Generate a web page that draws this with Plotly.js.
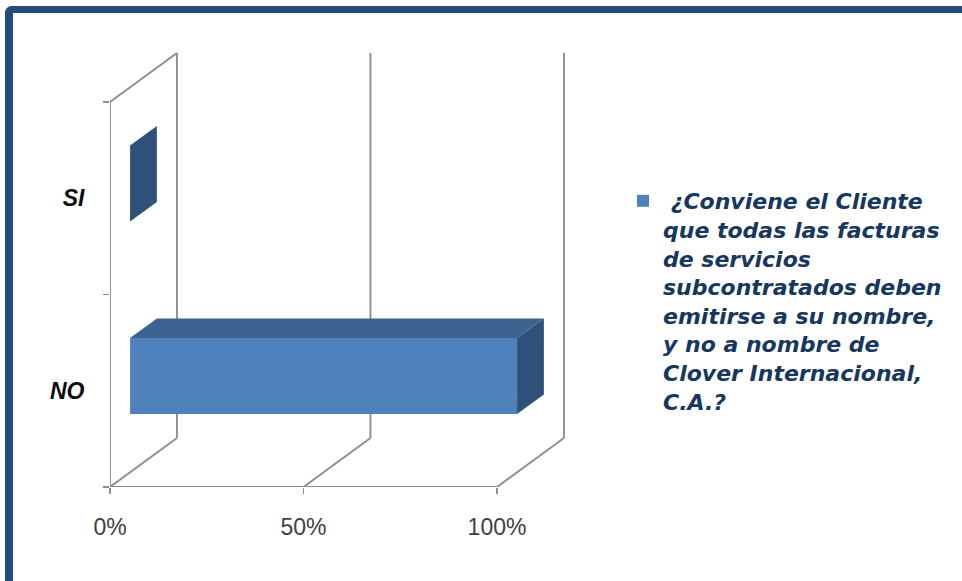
<!DOCTYPE html>
<html>
<head>
<meta charset="utf-8">
<script src="https://cdn.plot.ly/plotly-3.0.1.min.js"></script>
<style>
  html, body { margin: 0; padding: 0; background: #ffffff; overflow: hidden; }
  #frame { position: absolute; left: 5px; top: 6px; width: 1000px; height: 640px;
           border-top: 7px solid #234B7E; border-left: 8px solid #234B7E;
           border-top-left-radius: 7px; box-sizing: border-box; }
  #chart { position: absolute; left: 0; top: 0; width: 962px; height: 581px; }
</style>
</head>
<body>
<div id="frame"></div>
<div id="chart"></div>
<script>
// ---- data ----
const categories = ['NO', 'SI'];          // bottom to top
const values = [1.0, 0.0];                // share of answers (0..1)
const xTickVals = [0, 0.5, 1];
const xTickText = ['0%', '50%', '100%'];
const seriesLines = [
  ' ¿Conviene el Cliente',
  'que todas las facturas',
  'de servicios',
  'subcontratados deben',
  'emitirse a su nombre,',
  'y no a nombre de',
  'Clover Internacional,',
  'C.A.?'
];

// ---- 3D projection helpers (in data units) ----
const DX = 0.173, DY = 0.2545;   // full depth offset
const D1 = 0.3, D2 = 0.7;        // bar front/back depth fractions
const BARW = 0.395;
const wallColor = '#8e8e8e';
const frontColor = '#4F81BD', topColor = '#3D6391', sideColor = '#2F5079';

const yPos = categories.map((c, i) => i);
const traces = [];

// walls / gridlines (on the base subplot, drawn underneath)
function line(xs, ys) {
  traces.push({type: 'scatter', mode: 'lines', x: xs, y: ys, cliponaxis: false,
    xaxis: 'x', yaxis: 'y',
    line: {color: wallColor, width: 1.9}, hoverinfo: 'skip', showlegend: false});
}
const yLo = -0.5, yHi = categories.length - 0.5;
line([0, 0], [yLo, yHi]);
line([0, DX], [yHi, yHi + DY]);
line([0, xTickVals[xTickVals.length - 1]], [yLo, yLo]);
xTickVals.forEach(v => {
  line([v + DX, v + DX], [yLo + DY, yHi + DY]);
  line([v, v + DX], [yLo, yLo + DY]);
});

// bar 3D faces (overlay subplot, drawn on top of walls)
const dd = D2 - D1;
categories.forEach((c, i) => {
  const v = values[i];
  const x0 = D1 * DX;
  const yc = yPos[i] + D1 * DY;
  const yt = yc + BARW / 2, yb = yc - BARW / 2;
  traces.push({type: 'scatter', mode: 'lines', fill: 'toself', fillcolor: topColor,
    xaxis: 'x2', yaxis: 'y2',
    x: [x0, x0 + v, x0 + v + dd * DX, x0 + dd * DX, x0],
    y: [yt, yt, yt + dd * DY, yt + dd * DY, yt],
    line: {width: 0}, hoverinfo: 'skip', showlegend: false});
  traces.push({type: 'scatter', mode: 'lines', fill: 'toself', fillcolor: sideColor,
    xaxis: 'x2', yaxis: 'y2',
    x: [x0 + v, x0 + v, x0 + v + dd * DX, x0 + v + dd * DX, x0 + v],
    y: [yb, yt, yt + dd * DY, yb + dd * DY, yb],
    line: {width: 0}, hoverinfo: 'skip', showlegend: false});
});

// front faces (the series itself)
traces.push({
  type: 'bar', orientation: 'h',
  xaxis: 'x2', yaxis: 'y2',
  x: values,
  y: yPos.map(p => p + D1 * DY),
  base: D1 * DX,
  width: BARW,
  marker: {color: frontColor, line: {width: 0}},
  name: seriesLines.join('<br>'),
  showlegend: true
});

const xRange = [0, 490 / 387];
const yRange = [-0.5, -0.5 + 437 / 192.5];

const layout = {
  width: 962, height: 581,
  margin: {l: 110, r: 362, t: 50, b: 94},
  paper_bgcolor: 'rgba(0,0,0,0)', plot_bgcolor: 'rgba(0,0,0,0)',
  showlegend: true,
  xaxis: {
    range: xRange, showgrid: false, zeroline: false, showline: false,
    tickvals: xTickVals, ticktext: xTickText,
    ticks: 'outside', ticklen: 6, tickwidth: 1.9, tickcolor: wallColor,
    ticklabelstandoff: 13,
    tickfont: {family: 'Liberation Sans, Arial, sans-serif', size: 23, color: '#404040'}
  },
  yaxis: {
    range: yRange, showgrid: false, zeroline: false, showline: false,
    tickvals: yPos, ticktext: categories,
    ticks: 'outside', ticklen: 0, tickcolor: wallColor,
    ticklabelstandoff: 20,
    minor: {tickvals: [-0.5, 0.5, 1.5], ticks: 'outside', ticklen: 6, tickwidth: 1.9, tickcolor: wallColor},
    tickfont: {family: 'Liberation Sans, Arial, sans-serif', size: 23, color: '#0d0d0d',
               weight: 'bold', style: 'italic'}
  },
  xaxis2: {overlaying: 'x', anchor: 'y2', range: xRange, visible: false, fixedrange: true},
  yaxis2: {overlaying: 'y', anchor: 'x2', range: yRange, visible: false, fixedrange: true},
  legend: {
    x: (623 - 110) / 490, xanchor: 'left',
    y: (487 - 180) / 437, yanchor: 'top',
    valign: 'top', bgcolor: 'rgba(0,0,0,0)', borderwidth: 0,
    font: {family: 'DejaVu Sans, Verdana, sans-serif', size: 22, color: '#17375E',
           weight: 'bold', style: 'italic'}
  }
};

Plotly.newPlot('chart', traces, layout, {displayModeBar: false, staticPlot: true});
</script>
</body>
</html>
